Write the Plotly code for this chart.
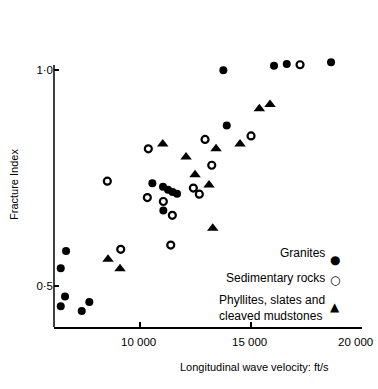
import plotly.graph_objects as go

# Granites (filled circles)
granite_x = [6663, 6424, 6617, 6424, 7371, 7713, 10555, 11037, 11263, 11466, 11669, 11051, 13757, 13910, 16043, 16616, 18614]
granite_y = [0.580, 0.540, 0.4745, 0.452, 0.441, 0.462, 0.737, 0.729, 0.722, 0.717, 0.713, 0.674, 0.999, 0.871, 1.010, 1.014, 1.018]

# Sedimentary rocks (open circles)
sed_x = [9130, 8525, 10374, 10329, 11051, 11457, 11385, 12404, 12674, 12932, 13234, 15006, 17216]
sed_y = [0.584, 0.742, 0.817, 0.704, 0.695, 0.663, 0.594, 0.726, 0.712, 0.839, 0.779, 0.847, 1.012]

# Phyllites, slates and cleaved mudstones (filled triangles)
phy_x = [8557, 9098, 11024, 12075, 12481, 13112, 13279, 13428, 14510, 15380, 15863]
phy_y = [0.561, 0.539, 0.828, 0.798, 0.757, 0.733, 0.633, 0.817, 0.828, 0.910, 0.920]

x_ticks = [10000, 15000, 20000]
x_tick_labels = ["10 000", "15 000", "20 000"]
y_ticks = [0.5, 1.0]
y_tick_labels = ["0·5", "1·0"]

legend_names = ["Granites", "Sedimentary rocks", "Phyllites, slates and<br>cleaved mudstones"]
legend_symbols = ["●", "○", "▲"]

FONT = "Liberation Sans, Arial, sans-serif"
Y_MIN, Y_AXIS_TOP, Y_MAX = 0.404, 1.0116, 1.03
H_PLOT = 327 - 57

fig = go.Figure()
fig.add_trace(go.Scatter(x=granite_x, y=granite_y, mode="markers", cliponaxis=False,
                         marker=dict(symbol="circle", size=8, color="black"), name="Granites"))
fig.add_trace(go.Scatter(x=sed_x, y=sed_y, mode="markers", cliponaxis=False,
                         marker=dict(symbol="circle-open", size=7, color="black", line=dict(width=2.2)),
                         name="Sedimentary rocks"))
fig.add_trace(go.Scatter(x=phy_x, y=phy_y, mode="markers", cliponaxis=False,
                         marker=dict(symbol="triangle-up", size=10, color="black"),
                         name="Phyllites"))

fig.update_layout(
    width=378, height=389,
    margin=dict(l=54, r=16, t=57, b=62, autoexpand=False),
    paper_bgcolor="white", plot_bgcolor="white",
    showlegend=False,
    font=dict(family=FONT, size=11, color="black"),
    xaxis=dict(range=[6120, 20010], tickvals=x_ticks, showticklabels=False, automargin=False,
               showgrid=False, zeroline=False, showline=True, linecolor="black", linewidth=1.5,
               ticks="inside", ticklen=5, tickwidth=1.5, tickcolor="black"),
    yaxis=dict(range=[Y_MIN, Y_MAX], tickvals=y_ticks, ticktext=y_tick_labels, automargin=False,
               showgrid=False, zeroline=False, showline=False,
               ticks="inside", ticklen=5, tickwidth=1.5, tickcolor="black",
               tickfont=dict(size=11.5, family=FONT)),
)

# y axis line (stops just above the 1·0 tick, as in the original)
fig.add_shape(type="line", xref="paper", yref="y", x0=0, x1=0, y0=Y_MIN, y1=Y_AXIS_TOP,
              line=dict(color="black", width=1.5))

# x tick labels (last one nudged left as in the original print)
label_shift = [-2, -1, -6]
for xv, lab, sh in zip(x_ticks, x_tick_labels, label_shift):
    fig.add_annotation(text=lab, x=xv, xref="x", yref="paper", y=-(342 - 327) / H_PLOT,
                       xanchor="center", yanchor="middle", xshift=sh, showarrow=False,
                       font=dict(size=11.5, family=FONT))

# axis titles
fig.add_annotation(text="Longitudinal wave velocity: ft/s", xref="paper", yref="paper",
                   x=(254 - 54) / 308, y=-(367 - 327) / H_PLOT, xanchor="center", yanchor="middle",
                   showarrow=False, font=dict(size=11, family=FONT))
fig.add_annotation(text="Fracture Index", xref="paper", yref="paper",
                   x=(14 - 54) / 308, y=(327 - 185) / H_PLOT, xanchor="center", yanchor="middle",
                   textangle=-90, showarrow=False, font=dict(size=11, family=FONT))

# legend (text right-aligned, symbol on the right)
text_y = [253, 278, 308]
sym_y = [260, 280, 307]
for name, sym, ty, sy in zip(legend_names, legend_symbols, text_y, sym_y):
    fig.add_annotation(text=name, xref="paper", yref="paper",
                       x=(327 - 54) / 308, y=(327 - ty) / H_PLOT, xanchor="right", yanchor="middle",
                       align="left", showarrow=False, font=dict(size=12, family=FONT))
    fig.add_annotation(text=sym, xref="paper", yref="paper",
                       x=(335 - 54) / 308, y=(327 - sy) / H_PLOT, xanchor="center", yanchor="middle",
                       showarrow=False, font=dict(size=12, family="DejaVu Sans"))

fig.write_html("out.html")
